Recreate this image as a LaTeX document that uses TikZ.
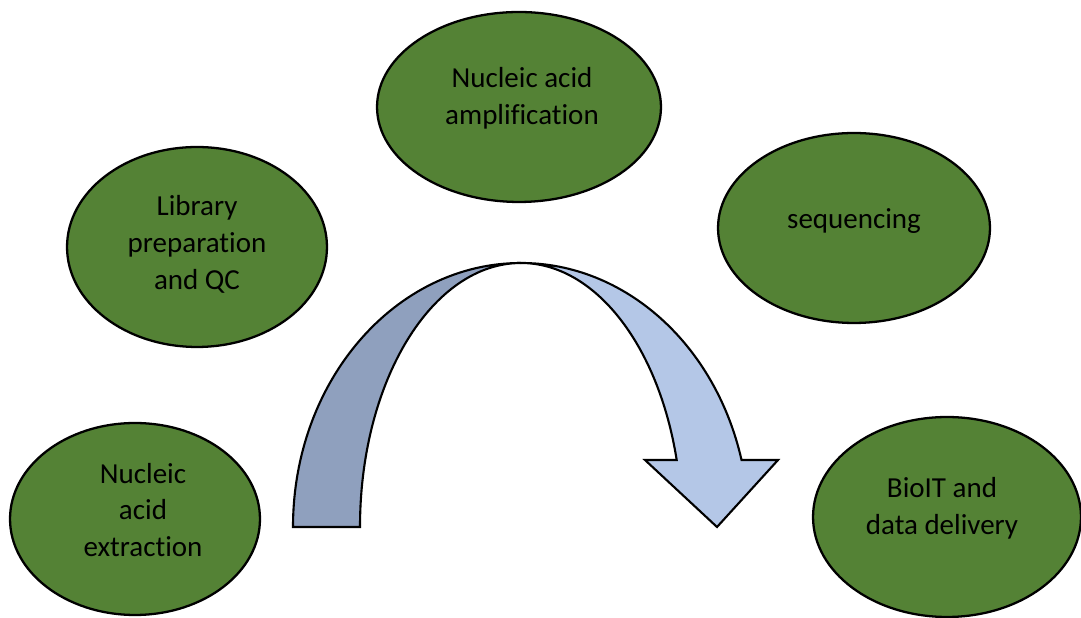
\documentclass[tikz,border=0pt]{standalone}
\usepackage{fontspec}
\setmainfont{Carlito}[Ligatures=NoCommon]
\usepackage{tikz}
\usetikzlibrary{shapes.geometric}

\definecolor{stagegreen}{HTML}{548235}
\definecolor{arrowdark}{HTML}{8FA0BE}
\definecolor{arrowlight}{HTML}{B4C7E7}

\begin{document}
\begin{tikzpicture}[x=0.02cm,y=0.02cm,
  stage/.style={ellipse,draw=black,fill=stagegreen,line width=1.3pt,inner sep=0pt},
  stagetext/.style={align=center,inner sep=0pt,font=\fontsize{16.5}{21}\selectfont}]
\useasboundingbox (0,0) rectangle (1081,618);

\node [stage,minimum width=5cm,minimum height=3.84cm] (extract) at (135,99) {};
\node [stage,minimum width=5.2cm,minimum height=4cm] (library) at (197,371) {};
\node [stage,minimum width=5.68cm,minimum height=3.8cm] (amplify) at (519,511) {};
\node [stage,minimum width=5.44cm,minimum height=3.8cm] (sequence) at (854,390) {};
\node [stage,minimum width=5.36cm,minimum height=4cm] (bioit) at (947,101) {};

\node [stagetext] (extracttext) at (143,108) {Nucleic\\acid\\extraction};
\node [stagetext] (librarytext) at (197,374) {Library\\preparation\\and QC};
\node [stagetext] (amplifytext) at (522,520) {Nucleic acid\\amplification};
\node [stagetext] (sequencetext) at (854,397) {sequencing};
\node [stagetext] (bioittext) at (942,110) {BioIT and\\data delivery};

\draw [black, line width=1.2pt, fill=arrowdark] (293,91)
  arc[start angle=180,end angle=90,x radius=228,y radius=264]
  arc[start angle=90,end angle=180,x radius=161,y radius=264] -- cycle;
\draw [black, line width=1.2pt, fill=arrowlight, line join=miter] (521,355)
  arc[start angle=90,end angle=14.7,x radius=228,y radius=264]
  -- (778,158) -- (717,91) -- (645,158) -- (676.7,158)
  arc[start angle=14.7,end angle=90,x radius=161,y radius=264] -- cycle;

\end{tikzpicture}
\end{document}
